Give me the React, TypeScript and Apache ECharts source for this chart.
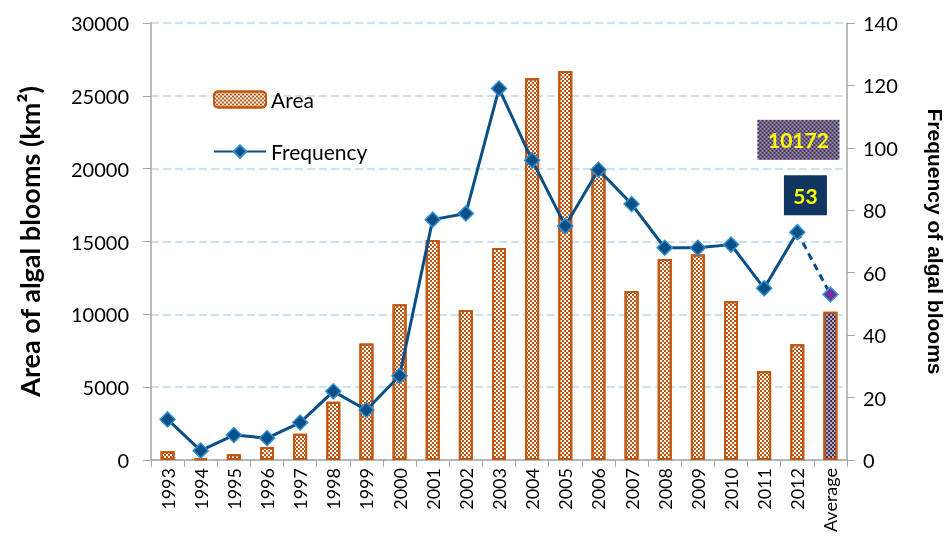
import React, { useEffect, useRef } from "react";
import * as echarts from "echarts";

const categories = ["1993","1994","1995","1996","1997","1998","1999","2000","2001","2002","2003","2004","2005","2006","2007","2008","2009","2010","2011","2012","Average"];
const areaValues = [600,100,400,900,1800,4000,8000,10700,15100,10300,14550,26200,26700,19900,11600,13800,14100,10900,6100,7950,10172];
const freqValues = [13,3,8,7,12,22,16,27,77,79,119,96,75,93,82,68,68,69,55,73,53];
const leftTicks = { min: 0, max: 30000, interval: 5000 };
const rightTicks = { min: 0, max: 140, interval: 20 };

function checkerUrl(w: number, h: number, a: string, b: string) {
  const c = document.createElement("canvas");
  c.width = w; c.height = h;
  const ctx = c.getContext("2d")!;
  ctx.fillStyle = b; ctx.fillRect(0, 0, w, h);
  ctx.fillStyle = a;
  for (let y = 0; y < h; y += 2) for (let x = 0; x < w; x += 2) {
    if (((x + y) / 2) % 2 === 0) ctx.fillRect(x, y, 2, 2);
  }
  return c.toDataURL();
}

export default function App() {
  const ref = useRef<HTMLDivElement>(null);
  useEffect(() => {
    const chart = echarts.init(ref.current!, undefined, { renderer: "svg" });
    const font = "Lato";
    const last = categories.length - 1;
    const barData = areaValues.map((v, i) => i === last ? {
      value: v,
      itemStyle: {
        color: "#b9a8cc",
        borderColor: "#c0560f",
        decal: { symbol: "rect", symbolSize: 1, color: "#3f3151", dashArrayX: [[2, 2], [0, 2, 2, 0]], dashArrayY: [2, 0] },
      },
      label: {
        show: true, position: "top", distance: 0, offset: [-32, -152],
        formatter: "{b|" + v + "}",
        rich: {
          b: {
            color: "#ffff00", fontWeight: "bold", fontSize: 21, fontFamily: font,
            width: 82, height: 40, lineHeight: 40, align: "center",
            backgroundColor: { image: checkerUrl(82, 40, "#3f3151", "#9d8fb0") },
          },
        },
      },
    } : v);
    const mainFreq = freqValues.map((v, i) => i === last ? "-" : v);
    const dashFreq = freqValues.map((v, i) => i === last ? {
      value: v,
      symbol: "diamond",
      itemStyle: { color: "#7030a0", borderColor: "#3aa0e0", borderWidth: 1.5 },
      label: {
        show: true, position: "top", distance: 0, offset: [-25, -71],
        formatter: "{b|" + v + "}",
        rich: { b: { color: "#ffff00", fontWeight: "bold", fontSize: 21, fontFamily: font, width: 43, height: 40, lineHeight: 40, align: "center", backgroundColor: "#0f3560" } },
      },
    } : i === last - 1 ? { value: v, symbol: "none" } : "-");
    chart.setOption({
      animation: false,
      textStyle: { fontFamily: font },
      grid: { left: 151, right: 102, top: 23, bottom: 82, outerBoundsMode: "none", containLabel: false },
      legend: {
        data: ["Area", "Frequency"],
        orient: "vertical", left: 208, top: 84, itemWidth: 52, itemHeight: 16, itemGap: 31,
        textStyle: { fontSize: 21, color: "#000", fontFamily: font },
      },
      xAxis: {
        type: "category", data: categories,
        axisLine: { lineStyle: { color: "#a6a6a6", width: 1.5 } },
        axisTick: { show: true, length: 7, lineStyle: { color: "#a6a6a6" } },
        axisLabel: { rotate: 90, fontSize: 18, color: "#000", margin: 8, interval: 0, fontFamily: font },
      },
      yAxis: [
        {
          type: "value", ...leftTicks,
          name: "Area of algal blooms (km²)", nameLocation: "middle", nameRotate: 90, nameGap: 108,
          nameTextStyle: { fontSize: 27, fontWeight: "bold", color: "#000", fontFamily: font },
          axisLine: { show: true, lineStyle: { color: "#a6a6a6", width: 1.5 } },
          axisTick: { show: true, length: 8, lineStyle: { color: "#a6a6a6" } },
          axisLabel: { fontSize: 20, color: "#000", margin: 22, fontFamily: font, formatter: (v: number) => String(v) },
          splitLine: { show: true, lineStyle: { color: "#bdd7ee", type: [8, 4], width: 1.5 } },
        },
        {
          type: "value", ...rightTicks,
          name: "Frequency of algal blooms", nameLocation: "middle", nameRotate: -90, nameGap: 78,
          nameTextStyle: { fontSize: 21, fontWeight: "bold", color: "#000", fontFamily: "Liberation Sans" },
          axisLine: { show: true, lineStyle: { color: "#a6a6a6", width: 1.5 } },
          axisTick: { show: true, length: 8, lineStyle: { color: "#a6a6a6" } },
          axisLabel: { fontSize: 20, color: "#000", margin: 16, fontFamily: font },
          splitLine: { show: false },
        },
      ],
      series: [
        {
          name: "Area", type: "bar", data: barData, barWidth: 14,
          itemStyle: {
            color: "#ffffff", borderColor: "#c0560f", borderWidth: 2,
            decal: { symbol: "rect", symbolSize: 1, color: "#c0560f", dashArrayX: [[2, 2], [0, 2, 2, 0]], dashArrayY: [2, 0] },
          },
        },
        {
          name: "Frequency", type: "line", yAxisIndex: 1, data: mainFreq,
          symbol: "diamond", symbolSize: 15,
          lineStyle: { color: "#0a4f86", width: 3 },
          itemStyle: { color: "#0a4f86", borderColor: "#2f8fd0", borderWidth: 1.5 },
        },
        {
          name: "FreqAvg", type: "line", yAxisIndex: 1, data: dashFreq,
          symbol: "diamond", symbolSize: 15,
          lineStyle: { color: "#0a4f86", width: 3, type: [7, 5] },
          itemStyle: { color: "#7030a0", borderColor: "#3aa0e0", borderWidth: 1.5 },
        },
      ],
    });
    return () => chart.dispose();
  }, []);
  return <div ref={ref} style={{ position: "fixed", left: 0, top: 0, width: 949, height: 542 }} />;
}
